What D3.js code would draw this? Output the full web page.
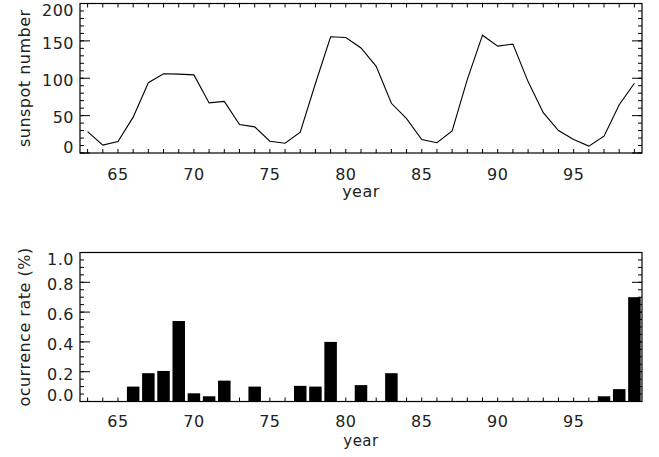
<!DOCTYPE html>
<html lang="en">
<head>
  <meta charset="UTF-8">
  <title>Sunspot number and occurrence rate</title>
  <script src="https://cdn.jsdelivr.net/npm/d3@7/dist/d3.min.js"></script>
  <style>
  body{
    margin: 0;
    background: #fff;
  }
  .lbl{
    font-family: 'DejaVu Sans', sans-serif;
    font-size: 16px;
    letter-spacing: 0.5px;
    fill: #222;
  }
  .marco{
    fill: none;
    stroke: #000;
    stroke-width: 1.2px;
  }
  .tick{
    stroke: #000;
    stroke-width: 1px;
  }
  </style>
</head>
<body>
  <div id="grafico"></div>

  <script>
    // datos
    var years = [63,64,65,66,67,68,69,70,71,72,73,74,75,76,77,78,79,80,81,
                 82,83,84,85,86,87,88,89,90,91,92,93,94,95,96,97,98,99];
    var sunspots = [28.5,10.5,15.3,48,94,106,105.5,104.5,67,69,38,35,15.8,13,28,
                    93,155.5,154.5,140.5,116,66.5,46,18,13.8,29.5,98.5,157.6,143,
                    145.6,95.5,54,30,18,9.2,22.5,64.5,93.3];
    var rates = [0,0,0,0.10,0.19,0.205,0.54,0.055,0.035,0.14,0,0.10,0,0,0.105,
                 0.10,0.40,0,0.11,0,0.19,0,0,0,0,0,0,0,0,0,0,0,0,0,0.035,0.083,0.70];
    var xTickLabels = [65,70,75,80,85,90,95];
    var topMajor = [0,50,100,150,200];
    var topMinor = d3.range(0,201,10);
    var botMajor = [0,0.2,0.4,0.6,0.8,1.0];
    var botMinor = d3.range(0,21).map(function(i){ return i*0.05; });

    var w = 659, h = 457;
    var left = 80, right = 642;

    var svg = d3.select("#grafico").append("svg")
      .attr("width", w).attr("height", h);

    var xScale = d3.scaleLinear().domain([62.5, 99.5]).range([left, right]);
    var yTop = d3.scaleLinear().domain([0, 200]).range([153, 3.5]);
    var yBot = d3.scaleLinear().domain([0, 1]).range([401.5, 252.5]);

    // pinta ejes y marco de un panel
    function panel(y, major, minor, fmt, title, topTicks, labY, yearY, yearSize){
      var r = y.range();
      var g = svg.append("g");
      g.append("rect").attr("class", "marco")
        .attr("x", left).attr("y", r[1])
        .attr("width", right - left).attr("height", r[0] - r[1]);

      // ticks del eje x (cada año)
      g.selectAll(".xt").data(years).enter().append("line")
        .attr("class", "tick")
        .attr("x1", function(d){ return xScale(d); })
        .attr("x2", function(d){ return xScale(d); })
        .attr("y1", r[0]).attr("y2", r[0] - 4);
      if(topTicks){
        g.selectAll(".xtt").data(years).enter().append("line")
          .attr("class", "tick")
          .attr("x1", function(d){ return xScale(d); })
          .attr("x2", function(d){ return xScale(d); })
          .attr("y1", r[1]).attr("y2", r[1] + 4);
      }
      g.selectAll(".xl").data(xTickLabels).enter().append("text")
        .attr("class", "lbl")
        .attr("text-anchor", "middle")
        .attr("x", function(d){ return xScale(d); })
        .attr("y", labY)
        .text(function(d){ return d; });

      // ticks del eje y, izquierda y derecha
      [[left, 1], [right, -1]].forEach(function(s){
        g.selectAll(null).data(minor).enter().append("line")
          .attr("class", "tick")
          .attr("x1", s[0]).attr("x2", s[0] + s[1]*4)
          .attr("y1", function(d){ return y(d); })
          .attr("y2", function(d){ return y(d); });
        g.selectAll(null).data(major).enter().append("line")
          .attr("class", "tick")
          .attr("x1", s[0]).attr("x2", s[0] + s[1]*10)
          .attr("y1", function(d){ return y(d); })
          .attr("y2", function(d){ return y(d); });
      });
      g.selectAll(".yl").data(major).enter().append("text")
        .attr("class", "lbl")
        .attr("text-anchor", "end")
        .attr("x", 74)
        .attr("y", function(d){
          var c = Math.max(r[1] + 7, Math.min(r[0] - 6, y(d) + 2));
          return c + 5.8; })
        .text(function(d){ return fmt(d); });

      g.append("text").attr("class", "lbl")
        .attr("text-anchor", "middle")
        .attr("transform", "translate(30," + ((r[0] + r[1]) / 2) + ") rotate(-90)")
        .text(title);
      g.append("text").attr("class", "lbl")
        .attr("text-anchor", "middle")
        .attr("x", (left + right) / 2)
        .attr("y", yearY)
        .style("font-size", yearSize + "px")
        .text("year");
    }

    panel(yTop, topMajor, topMinor, d3.format("d"), "sunspot number", true, 180, 197, 16);
    panel(yBot, botMajor, botMinor, d3.format(".1f"), "ocurrence rate (%)", false, 427, 445.5, 15);

    // linea de manchas solares
    var linea = d3.line()
      .x(function(d, i){ return xScale(years[i]); })
      .y(function(d){ return yTop(d); });
    svg.append("path")
      .datum(sunspots)
      .attr("d", linea)
      .attr("fill", "none")
      .attr("stroke", "#000")
      .attr("stroke-width", 1.1);

    // barras
    var anchoBarra = 12.5;
    svg.selectAll(".barra")
      .data(rates.map(function(v, i){ return {year: years[i], v: v}; })
        .filter(function(d){ return d.v > 0; }))
      .enter().append("rect")
      .attr("class", "barra")
      .attr("x", function(d){ return xScale(d.year) - anchoBarra / 2; })
      .attr("width", anchoBarra)
      .attr("y", function(d){ return yBot(d.v); })
      .attr("height", function(d){ return yBot(0) - yBot(d.v); })
      .attr("fill", "#000");
  </script>
</body>
</html>
